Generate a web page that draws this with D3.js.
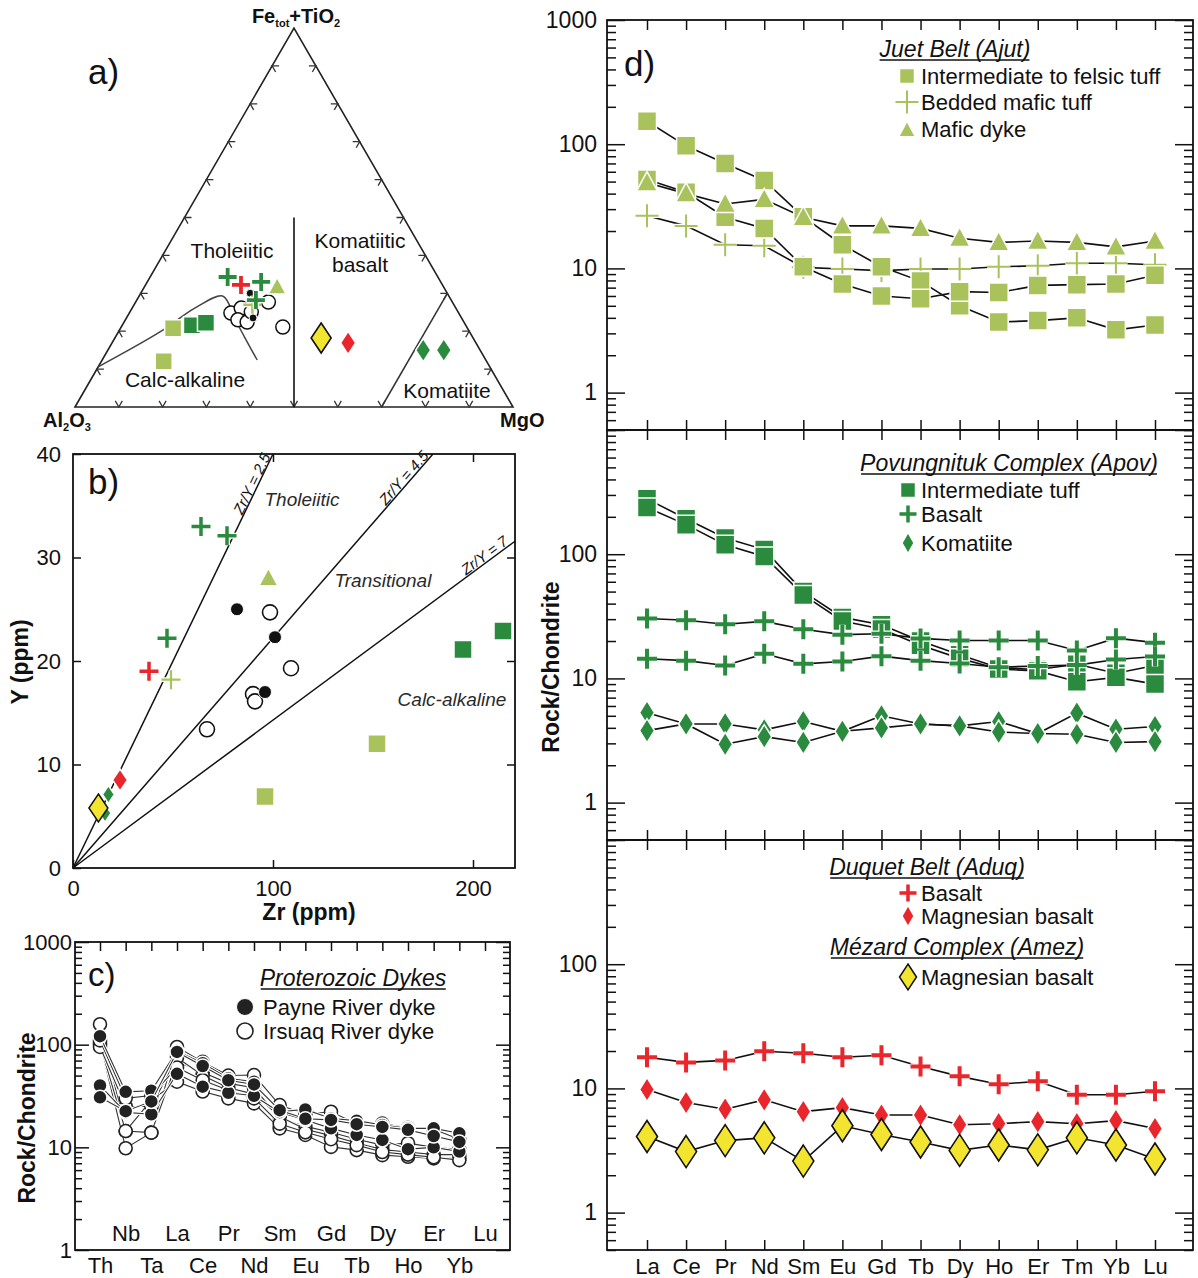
<!DOCTYPE html>
<html>
<head>
<meta charset="utf-8">
<script src="https://cdn.jsdelivr.net/npm/d3@7"></script>
<style>
body { margin:0; background:#fff; }
svg text { font-family: "Liberation Sans", Arial, Helvetica, sans-serif; fill:#111; }
</style>
</head>
<body>
<svg id="fig" width="1198" height="1278"></svg>
<script>
// ---------- data ----------
var REE = ["La","Ce","Pr","Nd","Sm","Eu","Gd","Tb","Dy","Ho","Er","Tm","Yb","Lu"];
var SPIDER = ["Th","Nb","Ta","La","Ce","Pr","Nd","Sm","Eu","Gd","Tb","Dy","Ho","Er","Yb","Lu"];

// d) Juet Belt
var ajutTuff1 = [153, 97, 70, 51, 26, 15.5, 10.3, 7.9, 5.0, 3.7, 3.8, 4.0, 3.2, 3.5];
var ajutTuff2 = [52, 41, 25.8, 21, 10.3, 7.5, 6.0, 5.7, 6.5, 6.4, 7.3, 7.4, 7.5, 8.8];
var ajutMaficTuff = [26.5, 22, 15.5, 15.2, 10.2, 9.9, 9.6, 9.9, 9.9, 10.3, 10.5, 11, 11, 10.7];
var ajutDyke = [49, 40, 33, 36, 25.8, 22, 22, 21, 17.5, 16.2, 16.6, 16.2, 14.9, 16.6];
// d) Povungnituk Complex
var apovTuff1 = [279, 193, 135, 109, 50, 31, 27, 20, 15.5, 12.2, 11.8, 13, 11, 12.7];
var apovTuff2 = [238, 173, 119, 96, 47, 29, 25, 18.5, 14.5, 11.9, 11.5, 9.4, 10.2, 9.0];
var apovBasalt1 = [30.4, 29.4, 27.3, 28.8, 24.9, 22.5, 22.9, 21, 20.2, 20.2, 20.2, 16.8, 21.1, 19.4];
var apovBasalt2 = [14.4, 13.9, 12.7, 15.8, 13.1, 13.7, 15.1, 13.9, 13.2, 12.3, 12.6, 12.8, 14.2, 15.0];
var apovKom1 = [5.3, 4.3, 4.3, 3.85, 4.5, 3.75, 5.0, 4.3, 4.15, 4.5, 3.6, 5.25, 3.9, 4.1];
var apovKom2 = [3.8, 4.3, 2.95, 3.4, 3.05, 3.75, 4.0, 4.3, 4.15, 3.7, 3.6, 3.55, 3.05, 3.1];
// d) Duquet Belt / Mezard Complex
var aduqBasalt = [17.8, 16.2, 16.8, 19.9, 19.2, 17.8, 18.5, 15.0, 12.5, 10.8, 11.4, 8.9, 8.9, 9.5];
var aduqMgBasalt = [9.8, 7.7, 6.8, 8.1, 6.5, 7.0, 6.1, 6.1, 5.1, 5.2, 5.4, 5.2, 5.5, 4.75];
var amezMgBasalt = [4.1, 3.1, 3.8, 4.0, 2.6, 5.0, 4.25, 3.7, 3.17, 3.5, 3.2, 4.0, 3.5, 2.7];

// c) Proterozoic dykes (Th..Yb, no Lu)
var payne = [
  [121, 34.7, 35.6, 87, 66, 47, 43.6, 22.2, 23.4, 19.1, 18.2, 16.5, 15.3, 15.3, 13.7, null],
  [40, 21.9, 21, 52, 39, 34, 31.8, 22, 18.5, 15.3, 13.2, 11.8, 9.6, 10, 9.1, null],
  [30.7, 22.5, 28, 85, 62, 45, 41, 23, 19, 18.5, 16.8, 15.8, 14.8, 12.9, 11.3, null]
];
var irsuaq = [
  [158, 14.4, 13.9, 95, 68, 50, 50.6, 25.8, 21, 22.2, 17, 17, 15.5, 15, 12, null],
  [103, 9.8, 13.9, 68, 54, 42, 38, 19, 16, 14, 12, 10.5, 11, 10, 9.5, null],
  [100, 14.4, 28.8, 43.6, 35, 30, 26.8, 15.3, 13.2, 10.1, 9.4, 8.4, 8.1, 7.8, 7.8, null],
  [95, 25, 25, 75, 50, 38, 33, 20, 15, 13, 11, 9.5, 9, 8.5, 8.5, null],
  [110, 30, 32, 60, 45, 36, 30, 17, 14, 12, 10.5, 9, 8.5, 8, 7.5, null]
];

// b) Zr vs Y  [Zr, Y]
var bDarkPlus = [[64, 33], [77, 32.1], [47, 22.2]];
var bRedPlus = [[38, 19]];
var bLightPlus = [[49, 18.2]];
var bTriangle = [[97.7, 28]];
var bDots = [[82, 25], [101, 22.3], [96, 17]];
var bCircles = [[98.5, 24.7], [109, 19.3], [90, 16.8], [91, 16.1], [67, 13.4]];
var bDarkSq = [[195, 21.1], [215, 22.9]];
var bLightSq = [[152, 12], [96, 6.9]];
var bDarkDia = [[17.7, 7.1], [16, 5.3]];
var bRedDia = [[23.5, 8.5]];
var bYellow = [[12.7, 5.8]];
var zrYRatios = [2.5, 4.5, 7];

// a) Jensen cation plot [Al, Fe+Ti, Mg] %
var aDarkPlus = [[48, 34.3, 17.7], [41, 33, 26], [44.6, 28.2, 27.2]];
var aLightPlus = [[46, 27, 27]];
var aRedPlus = [[46, 32.2, 21.8]];
var aTriangle = [[38, 31.7, 30.3]];
var aDots = [[45, 30, 25], [47.6, 23.5, 28.9]];
var aCircles = [[42, 27.7, 30.3], [42, 21.1, 36.9], [52, 24.8, 23.2], [49, 26.1, 24.9], [51.3, 23, 25.7], [49.5, 22.4, 28.1], [47.2, 25.1, 27.7]];
var aLightSq = [[67.2, 20.8, 12], [73.7, 12.1, 14.2]];
var aDarkSq = [[62.5, 21.6, 15.9], [59, 22.2, 18.8]];
var aYellow = [[34.7, 18.2, 47.1]];
var aRedDia = [[29.2, 16.9, 53.9]];
var aDarkDia = [[13, 15, 72], [8.3, 15, 76.7]];
var aDivide = [[50, 0, 50], [25, 50, 25]];
var aKomLine = [[30, 0, 70], [0, 30, 70]];
var aCalcAlk = [[89.4, 10.6, 0], [70.7, 19.8, 9.5], [59.6, 26.1, 14.3], [51.7, 29.3, 19], [51.3, 26.6, 22.1], [51.9, 21.9, 26.2], [52.1, 17.2, 30.7], [52.2, 12.4, 35.4]];
var ternTicks = [0.1, 0.2, 0.3, 0.4, 0.5, 0.6, 0.7, 0.8, 0.9];

// ---------- styles ----------
var LIGHT = "#a9c25b", DARK = "#2a8a3d", RED = "#e8262b", YEL = "#f3e52f";
var FONT = "'Liberation Sans', Arial, Helvetica, sans-serif";
var svg = d3.select("#fig");

function markerPath(type, s, h) {
  var a = s / 2;
  if (type == "square") return "M" + (-a) + "," + (-a) + "h" + s + "v" + s + "h" + (-s) + "Z";
  if (type == "triangle") return "M0," + (-a * 1.05) + "L" + a + "," + (a * 0.8) + "L" + (-a) + "," + (a * 0.8) + "Z";
  if (type == "diamond") { var b = (h || s) / 2; return "M0," + (-b) + "L" + a + ",0L0," + b + "L" + (-a) + ",0Z"; }
  if (type == "plus") return "M" + (-a) + ",0H" + a + "M0," + (-a) + "V" + a;
  if (type == "circle") return "M" + a + ",0A" + a + "," + a + " 0 1 1 " + (-a) + ",0A" + a + "," + a + " 0 1 1 " + a + ",0Z";
}

function addMarker(g, st, x, y) {
  var p = markerPath(st.type, st.size, st.h);
  var tr = "translate(" + x + "," + y + ")";
  if (st.type == "plus") {
    g.append("path").attr("d", p).attr("transform", tr).attr("fill", "none")
      .attr("stroke", "#fff").attr("stroke-width", st.sw + 2.5);
    g.append("path").attr("d", p).attr("transform", tr).attr("fill", "none")
      .attr("stroke", st.color).attr("stroke-width", st.sw);
  } else {
    g.append("path").attr("d", p).attr("transform", tr)
      .attr("fill", st.color).attr("stroke", st.stroke || "#fff").attr("stroke-width", st.sw || 1.5);
  }
}

function label(g, txt, x, y, size, opt) {
  opt = opt || {};
  var t = g.append("text").attr("x", x).attr("y", y).attr("font-size", size)
    .attr("text-anchor", opt.anchor || "start")
    .attr("font-style", opt.italic ? "italic" : null)
    .attr("font-weight", opt.bold ? "bold" : null)
    .text(txt);
  if (opt.fill) t.style("fill", opt.fill);
  if (opt.rotate) t.attr("transform", "rotate(" + opt.rotate + "," + x + "," + y + ")");
  if (opt.underline) {
    var bb = t.node().getBBox();
    g.append("line").attr("x1", bb.x + 1).attr("x2", bb.x + bb.width - 1)
      .attr("y1", y + 3).attr("y2", y + 3).attr("stroke", "#111").attr("stroke-width", 1.4);
  }
  return t;
}

function styleAxis(g, size) {
  g.select(".domain").remove();
  g.selectAll(".tick line").attr("stroke", "#111").attr("stroke-width", 1.5);
  g.selectAll(".tick text").attr("font-size", size || 20).attr("font-family", FONT).style("fill", "#111");
}

function logMinors(lo, hi) {
  var out = [];
  for (var e = -1; e <= 3; e++) {
    for (var m = 2; m <= 9; m++) {
      var v = m * Math.pow(10, e);
      if (v >= lo && v <= hi) out.push(v);
    }
  }
  return out;
}

// ---------- d) REE diagrams ----------
var dLeft = 607, dRight = 1193;
var xRee = d3.scalePoint().domain(REE).range([647, 1155]);

var stAjutSq = {type: "square", size: 19, color: LIGHT};
var stAjutPlus = {type: "plus", size: 23, color: LIGHT, sw: 2};
var stAjutTri = {type: "triangle", size: 21, color: LIGHT};
var stApovSq = {type: "square", size: 19, color: DARK};
var stApovPlus = {type: "plus", size: 20, color: DARK, sw: 4};
var stApovDia = {type: "diamond", size: 15, h: 24, color: DARK};
var stRedPlus = {type: "plus", size: 20, color: RED, sw: 4};
var stRedDia = {type: "diamond", size: 15, h: 24, color: RED};
var stYelDia = {type: "diamond", size: 21, h: 32, color: YEL, stroke: "#111", sw: 1.6};

var panels = [
  {top: 20, bottom: 430, first: true, series: [
    {v: ajutMaficTuff, st: stAjutPlus}, {v: ajutTuff1, st: stAjutSq}, {v: ajutTuff2, st: stAjutSq}, {v: ajutDyke, st: stAjutTri}]},
  {top: 430, bottom: 840, series: [
    {v: apovTuff1, st: stApovSq}, {v: apovTuff2, st: stApovSq}, {v: apovBasalt1, st: stApovPlus}, {v: apovBasalt2, st: stApovPlus},
    {v: apovKom1, st: stApovDia}, {v: apovKom2, st: stApovDia}]},
  {top: 840, bottom: 1250, series: [
    {v: aduqBasalt, st: stRedPlus}, {v: aduqMgBasalt, st: stRedDia}, {v: amezMgBasalt, st: stYelDia}]}
];

panels.forEach(function(p) {
  var y = d3.scaleLog().domain([0.5, 1000]).range([p.bottom, p.top]);
  var g = svg.append("g");
  g.append("rect").attr("x", dLeft).attr("y", p.top).attr("width", dRight - dLeft).attr("height", p.bottom - p.top)
    .attr("fill", "none").attr("stroke", "#111").attr("stroke-width", 1.8);

  var majL = g.append("g").attr("transform", "translate(" + dLeft + ",0)")
    .call(d3.axisLeft(y).tickValues([1, 10, 100, 1000]).tickSize(-18).tickPadding(10)
      .tickFormat(function(d) { return (d == 1000 && !p.first) ? "" : d3.format("d")(d); }));
  styleAxis(majL, 23);
  styleAxis(g.append("g").attr("transform", "translate(" + dLeft + ",0)")
    .call(d3.axisLeft(y).tickValues(logMinors(0.5, 1000)).tickSize(-9).tickFormat("")));
  styleAxis(g.append("g").attr("transform", "translate(" + dRight + ",0)")
    .call(d3.axisRight(y).tickValues([1, 10, 100, 1000]).tickSize(-18).tickFormat("")));
  styleAxis(g.append("g").attr("transform", "translate(" + dRight + ",0)")
    .call(d3.axisRight(y).tickValues(logMinors(0.5, 1000)).tickSize(-9).tickFormat("")));
  styleAxis(g.append("g").attr("transform", "translate(0," + p.top + ")")
    .call(d3.axisTop(xRee).tickSize(-10).tickFormat("")));
  styleAxis(g.append("g").attr("transform", "translate(0," + p.bottom + ")")
    .call(d3.axisBottom(xRee).tickSize(-10).tickFormat("")));

  var line = d3.line().x(function(d, i) { return xRee(REE[i]); }).y(function(d) { return y(d); });
  p.series.forEach(function(s) {
    g.append("path").attr("d", line(s.v)).attr("fill", "none").attr("stroke", "#111").attr("stroke-width", 1.6);
  });
  p.series.forEach(function(s) {
    s.v.forEach(function(d, i) { addMarker(g, s.st, xRee(REE[i]), y(d)); });
  });
});

// x labels under panel d
var dxAxis = svg.append("g").attr("transform", "translate(0,1250)")
  .call(d3.axisBottom(xRee).tickSize(0).tickPadding(8));
styleAxis(dxAxis, 22);

label(svg, "d)", 624, 76, 35);
label(svg, "Rock/Chondrite", 559, 667, 23, {bold: true, anchor: "middle", rotate: -90});

// d legends
var lg = svg.append("g");
label(lg, "Juet Belt (Ajut)", 955, 57, 23, {italic: true, anchor: "middle", underline: true});
addMarker(lg, {type: "square", size: 15, color: LIGHT}, 907, 76);
label(lg, "Intermediate to felsic tuff", 921, 84, 22);
addMarker(lg, stAjutPlus, 907, 102);
label(lg, "Bedded mafic tuff", 921, 110, 22);
addMarker(lg, {type: "triangle", size: 17, color: LIGHT}, 907, 130);
label(lg, "Mafic dyke", 921, 137, 22);

label(lg, "Povungnituk Complex (Apov)", 1009, 471, 23, {italic: true, anchor: "middle", underline: true});
addMarker(lg, {type: "square", size: 15, color: DARK}, 908, 490);
label(lg, "Intermediate tuff", 921, 498, 22);
addMarker(lg, {type: "plus", size: 17, color: DARK, sw: 3.5}, 908, 514);
label(lg, "Basalt", 921, 522, 22);
addMarker(lg, {type: "diamond", size: 12, h: 21, color: DARK}, 908, 543);
label(lg, "Komatiite", 921, 551, 22);

label(lg, "Duquet Belt (Aduq)", 927, 875, 23, {italic: true, anchor: "middle", underline: true});
addMarker(lg, {type: "plus", size: 17, color: RED, sw: 3.5}, 908, 893);
label(lg, "Basalt", 921, 901, 22);
addMarker(lg, {type: "diamond", size: 12, h: 21, color: RED}, 908, 916);
label(lg, "Magnesian basalt", 921, 924, 22);
label(lg, "Mézard Complex (Amez)", 957, 955, 23, {italic: true, anchor: "middle", underline: true});
addMarker(lg, {type: "diamond", size: 17, h: 26, color: YEL, stroke: "#111", sw: 1.5}, 908, 977);
label(lg, "Magnesian basalt", 921, 985, 22);

// ---------- c) spider diagram ----------
(function() {
  var L = 75, R = 510, T = 942, B = 1250;
  var x = d3.scalePoint().domain(SPIDER).range([100, 485]);
  var y = d3.scaleLog().domain([1, 1000]).range([B, T]);
  var g = svg.append("g");
  g.append("rect").attr("x", L).attr("y", T).attr("width", R - L).attr("height", B - T)
    .attr("fill", "none").attr("stroke", "#111").attr("stroke-width", 1.8);
  styleAxis(g.append("g").attr("transform", "translate(" + L + ",0)")
    .call(d3.axisLeft(y).tickValues([1, 10, 100, 1000]).tickSize(-14).tickPadding(3).tickFormat(d3.format("d"))), 22);
  styleAxis(g.append("g").attr("transform", "translate(" + L + ",0)")
    .call(d3.axisLeft(y).tickValues(logMinors(1, 1000)).tickSize(-7).tickFormat("")));
  styleAxis(g.append("g").attr("transform", "translate(" + R + ",0)")
    .call(d3.axisRight(y).tickValues([1, 10, 100, 1000]).tickSize(-14).tickFormat("")));
  styleAxis(g.append("g").attr("transform", "translate(" + R + ",0)")
    .call(d3.axisRight(y).tickValues(logMinors(1, 1000)).tickSize(-7).tickFormat("")));
  styleAxis(g.append("g").attr("transform", "translate(0," + T + ")")
    .call(d3.axisTop(x).tickSize(-9).tickFormat("")));

  var lower = SPIDER.filter(function(d, i) { return i % 2 == 0; });
  var upper = SPIDER.filter(function(d, i) { return i % 2 == 1; });
  styleAxis(g.append("g").attr("transform", "translate(0," + B + ")")
    .call(d3.axisBottom(x).tickValues(lower).tickSize(0).tickPadding(7)), 22);
  styleAxis(g.append("g").attr("transform", "translate(0," + B + ")")
    .call(d3.axisTop(x).tickValues(upper).tickSize(0).tickPadding(9)), 22);

  var line = d3.line().defined(function(d) { return d != null; })
    .x(function(d, i) { return x(SPIDER[i]); }).y(function(d) { return y(d); });
  function drawSample(v, filled) {
    g.append("path").attr("d", line(v)).attr("fill", "none").attr("stroke", "#fff").attr("stroke-width", 3.2);
    g.append("path").attr("d", line(v)).attr("fill", "none").attr("stroke", "#333").attr("stroke-width", 1.1);
    v.forEach(function(d, i) {
      if (d == null) return;
      if (filled) addMarker(g, {type: "circle", size: 14, color: "#222", stroke: "#fff", sw: 1.5}, x(SPIDER[i]), y(d));
      else addMarker(g, {type: "circle", size: 13, color: "#fff", stroke: "#222", sw: 1.6}, x(SPIDER[i]), y(d));
    });
  }
  irsuaq.forEach(function(v) { drawSample(v, false); });
  payne.forEach(function(v) { drawSample(v, true); });

  label(svg, "c)", 88, 986, 33);
  label(svg, "Rock/Chondrite", 35, 1118, 23, {bold: true, anchor: "middle", rotate: -90});
  label(svg, "Proterozoic Dykes", 353, 986, 23, {italic: true, anchor: "middle", underline: true});
  addMarker(svg, {type: "circle", size: 17, color: "#222", stroke: "#fff", sw: 1}, 245, 1007);
  label(svg, "Payne River dyke", 263, 1015, 22);
  addMarker(svg, {type: "circle", size: 16, color: "#fff", stroke: "#222", sw: 1.6}, 245, 1031);
  label(svg, "Irsuaq River dyke", 263, 1039, 22);
})();

// ---------- b) Zr vs Y ----------
(function() {
  var L = 73, R = 515, T = 454, B = 868;
  var x = d3.scaleLinear().domain([0, 221]).range([L, R]);
  var y = d3.scaleLinear().domain([0, 40]).range([B, T]);
  var g = svg.append("g");

  zrYRatios.forEach(function(r) {
    var zEnd = Math.min(221, 40 * r);
    g.append("line").attr("x1", x(0)).attr("y1", y(0)).attr("x2", x(zEnd)).attr("y2", y(zEnd / r))
      .attr("stroke", "#111").attr("stroke-width", 1.5);
    var zl = Math.min(218, 39.6 * r);
    var ang = Math.atan2(y(zl / r) - y(0), x(zl) - x(0)) * 180 / Math.PI;
    var px = x(zl), py = y(zl / r) - 2;
    g.append("text").attr("x", px).attr("y", py).attr("font-size", 15).attr("font-style", "italic")
      .attr("text-anchor", "end").attr("transform", "rotate(" + ang + "," + px + "," + py + ")")
      .text("Zr/Y = " + r);
  });

  g.append("rect").attr("x", L).attr("y", T).attr("width", R - L).attr("height", B - T)
    .attr("fill", "none").attr("stroke", "#111").attr("stroke-width", 1.8);
  styleAxis(g.append("g").attr("transform", "translate(0," + B + ")")
    .call(d3.axisBottom(x).tickValues([0, 100, 200]).tickSize(-8).tickPadding(12)), 22);
  styleAxis(g.append("g").attr("transform", "translate(0," + T + ")")
    .call(d3.axisTop(x).tickValues([100, 200]).tickSize(-8).tickFormat("")));
  styleAxis(g.append("g").attr("transform", "translate(" + L + ",0)")
    .call(d3.axisLeft(y).tickValues([0, 10, 20, 30, 40]).tickSize(-8).tickPadding(12)), 22);
  styleAxis(g.append("g").attr("transform", "translate(" + R + ",0)")
    .call(d3.axisRight(y).tickValues([10, 20, 30]).tickSize(-8).tickFormat("")));

  function pts(arr, st) { arr.forEach(function(d) { addMarker(g, st, x(d[0]), y(d[1])); }); }
  pts(bCircles, {type: "circle", size: 15, color: "#fff", stroke: "#111", sw: 1.6});
  pts(bDots, {type: "circle", size: 13, color: "#111", stroke: "#fff", sw: 1});
  pts(bDarkSq, {type: "square", size: 18, color: DARK});
  pts(bLightSq, {type: "square", size: 18, color: LIGHT});
  pts(bTriangle, {type: "triangle", size: 19, color: LIGHT});
  pts(bDarkPlus, {type: "plus", size: 19, color: DARK, sw: 3.5});
  pts(bRedPlus, {type: "plus", size: 19, color: RED, sw: 3.5});
  pts(bLightPlus, {type: "plus", size: 19, color: LIGHT, sw: 2.2});
  pts(bDarkDia, {type: "diamond", size: 12, h: 18, color: DARK});
  pts(bRedDia, {type: "diamond", size: 15, h: 22, color: RED});
  pts(bYellow, {type: "diamond", size: 19, h: 28, color: YEL, stroke: "#111", sw: 1.5});

  label(svg, "Tholeiitic", 302, 506, 19, {italic: true, anchor: "middle", fill: "#2a2a2a"});
  label(svg, "Transitional", 383, 587, 19, {italic: true, anchor: "middle", fill: "#2a2a2a"});
  label(svg, "Calc-alkaline", 452, 706, 19, {italic: true, anchor: "middle", fill: "#2a2a2a"});
  label(svg, "b)", 88, 494, 35);
  label(svg, "Zr (ppm)", 309, 920, 23, {bold: true, anchor: "middle"});
  label(svg, "Y (ppm)", 28, 662, 23, {bold: true, anchor: "middle", rotate: -90});
})();

// ---------- a) ternary ----------
(function() {
  var tx = d3.scaleLinear().domain([0, 1]).range([75, 513]);
  var ty = d3.scaleLinear().domain([0, 1]).range([407, 28]);
  function pos(c) {
    var s = c[0] + c[1] + c[2], fe = c[1] / s, mg = c[2] / s;
    return [tx(mg + fe / 2), ty(fe)];
  }
  var g = svg.append("g");
  var A = pos([100, 0, 0]), F = pos([0, 100, 0]), M = pos([0, 0, 100]);
  g.append("path").attr("d", "M" + A + "L" + F + "L" + M + "Z").attr("fill", "none")
    .attr("stroke", "#222").attr("stroke-width", 1.6);

  function unit(p, q) { var dx = q[0] - p[0], dy = q[1] - p[1], l = Math.hypot(dx, dy); return [dx / l, dy / l]; }
  var sides = [
    {p: A, q: M, d1: unit(A, F), d2: unit(M, F)},
    {p: A, q: F, d1: unit(A, M), d2: unit(F, M)},
    {p: M, q: F, d1: unit(M, A), d2: unit(F, A)}
  ];
  var tl = 7;
  sides.forEach(function(s) {
    ternTicks.forEach(function(t) {
      var px = s.p[0] + t * (s.q[0] - s.p[0]), py = s.p[1] + t * (s.q[1] - s.p[1]);
      g.append("path").attr("d", "M" + (px + tl * s.d1[0]) + "," + (py + tl * s.d1[1]) + "L" + px + "," + py +
        "L" + (px + tl * s.d2[0]) + "," + (py + tl * s.d2[1]))
        .attr("fill", "none").attr("stroke", "#333").attr("stroke-width", 1.3);
    });
  });

  var tline = d3.line().x(function(c) { return pos(c)[0]; }).y(function(c) { return pos(c)[1]; });
  g.append("path").attr("d", tline(aDivide)).attr("fill", "none").attr("stroke", "#111").attr("stroke-width", 1.6);
  g.append("path").attr("d", tline(aKomLine)).attr("fill", "none").attr("stroke", "#333").attr("stroke-width", 1.5);
  g.append("path").attr("d", tline.curve(d3.curveCatmullRom)(aCalcAlk)).attr("fill", "none")
    .attr("stroke", "#444").attr("stroke-width", 1.5);

  function pts(arr, st) { arr.forEach(function(c) { var p = pos(c); addMarker(g, st, p[0], p[1]); }); }
  pts(aCircles, {type: "circle", size: 14, color: "#fff", stroke: "#111", sw: 1.5});
  pts(aDots, {type: "circle", size: 8, color: "#111", stroke: "#fff", sw: 1});
  pts(aLightSq, {type: "square", size: 17, color: LIGHT});
  pts(aDarkSq, {type: "square", size: 17, color: DARK});
  pts(aTriangle, {type: "triangle", size: 18, color: LIGHT});
  pts(aLightPlus, {type: "plus", size: 18, color: LIGHT, sw: 2.5});
  pts(aDarkPlus, {type: "plus", size: 18, color: DARK, sw: 3.8});
  pts(aRedPlus, {type: "plus", size: 18, color: RED, sw: 3.8});
  pts(aYellow, {type: "diamond", size: 20, h: 30, color: YEL, stroke: "#111", sw: 1.6});
  pts(aRedDia, {type: "diamond", size: 15, h: 23, color: RED});
  pts(aDarkDia, {type: "diamond", size: 15, h: 23, color: DARK});

  label(svg, "a)", 88, 84, 35);
  label(svg, "Tholeiitic", 232, 258, 21, {anchor: "middle"});
  label(svg, "Komatiitic", 360, 248, 21, {anchor: "middle"});
  label(svg, "basalt", 360, 272, 21, {anchor: "middle"});
  label(svg, "Calc-alkaline", 185, 387, 21, {anchor: "middle"});
  label(svg, "Komatiite", 447, 398, 21, {anchor: "middle"});

  var t1 = svg.append("text").attr("x", 296).attr("y", 23).attr("font-size", 20).attr("font-weight", "bold").attr("text-anchor", "middle");
  t1.append("tspan").text("Fe");
  t1.append("tspan").attr("font-size", 11).attr("dy", 4).text("tot");
  t1.append("tspan").attr("dy", -4).text("+TiO");
  t1.append("tspan").attr("font-size", 11).attr("dy", 4).text("2");
  var t2 = svg.append("text").attr("x", 43).attr("y", 427).attr("font-size", 20).attr("font-weight", "bold");
  t2.append("tspan").text("Al");
  t2.append("tspan").attr("font-size", 11).attr("dy", 4).text("2");
  t2.append("tspan").attr("dy", -4).text("O");
  t2.append("tspan").attr("font-size", 11).attr("dy", 4).text("3");
  label(svg, "MgO", 500, 427, 20, {bold: true});
})();
</script>
</body>
</html>
